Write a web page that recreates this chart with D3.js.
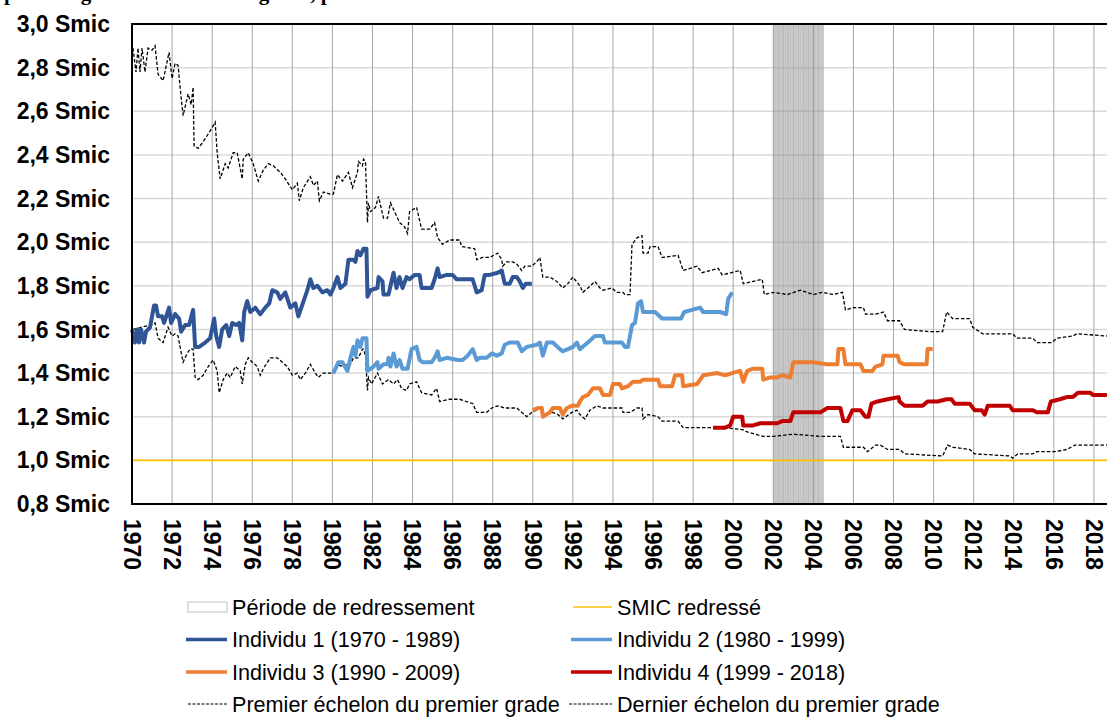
<!DOCTYPE html>
<html lang="fr">
<head>
<meta charset="utf-8">
<script src="https://cdn.jsdelivr.net/npm/d3@7"></script>
<style>
  html, body { margin: 0; padding: 0; background: #ffffff; }
  svg { display: block; }
  text { font-family: Arial, "Liberation Sans", sans-serif; }
</style>
</head>
<body>
<svg id="chart" width="1107" height="717"></svg>
<script>
// ---- Data: ratio to the Smic, by year (fractional years) ----
const yearTicks = d3.range(1970, 2019, 2);
const valueTicks = [0.8, 1.0, 1.2, 1.4, 1.6, 1.8, 2.0, 2.2, 2.4, 2.6, 2.8, 3.0];
const smicLevel = 1.0;
const redressementPeriod = [2002, 2004.5];

const dernierEchelon = [
  [1970.05,2.89],[1970.2,2.78],[1970.3,2.89],[1970.4,2.78],[1970.5,2.89],[1970.65,2.78],[1970.8,2.89],
  [1971.0,2.88],[1971.15,2.90],[1971.3,2.77],[1971.55,2.74],[1971.85,2.87],[1972.0,2.75],[1972.15,2.82],
  [1972.3,2.81],[1972.4,2.71],[1972.55,2.58],[1972.8,2.68],[1972.95,2.63],[1973.05,2.71],[1973.1,2.44],
  [1973.3,2.43],[1973.55,2.46],[1973.9,2.51],[1974.15,2.55],[1974.25,2.41],[1974.4,2.29],[1974.65,2.36],
  [1974.8,2.34],[1975.05,2.41],[1975.25,2.41],[1975.5,2.29],[1975.55,2.38],[1975.8,2.41],[1976.05,2.36],
  [1976.3,2.28],[1976.55,2.33],[1976.8,2.36],[1977.05,2.35],[1977.4,2.32],[1977.65,2.29],[1978.0,2.24],
  [1978.25,2.27],[1978.35,2.19],[1978.55,2.25],[1978.9,2.30],[1979.05,2.26],[1979.25,2.28],[1979.35,2.19],
  [1979.55,2.23],[1979.9,2.22],[1980.05,2.22],[1980.25,2.31],[1980.5,2.28],[1980.8,2.32],[1981.0,2.25],
  [1981.25,2.32],[1981.3,2.37],[1981.5,2.35],[1981.55,2.38],[1981.65,2.37],[1981.75,2.09],[1981.8,2.18],
  [1981.9,2.14],[1982.15,2.16],[1982.3,2.21],[1982.55,2.11],[1982.75,2.11],[1982.9,2.18],[1983.05,2.15],
  [1983.35,2.09],[1983.6,2.07],[1983.75,2.04],[1983.85,2.14],[1984.2,2.16],[1984.45,2.06],[1984.85,2.06],
  [1985.1,2.09],[1985.25,2.02],[1985.5,1.99],[1985.85,2.01],[1986.35,2.01],[1986.45,1.98],[1987.1,1.97],
  [1987.2,1.92],[1987.5,1.93],[1987.85,1.93],[1988.25,1.95],[1988.45,1.92],[1988.5,1.89],[1988.7,1.91],
  [1989.0,1.91],[1989.2,1.90],[1989.45,1.87],[1989.6,1.89],[1989.95,1.89],[1990.2,1.91],[1990.35,1.93],
  [1990.5,1.84],[1990.85,1.84],[1991.2,1.82],[1991.5,1.79],[1991.75,1.81],[1992.0,1.84],[1992.35,1.80],
  [1992.5,1.77],[1992.75,1.79],[1993.1,1.82],[1993.35,1.79],[1993.5,1.78],[1993.95,1.79],[1994.2,1.77],
  [1994.5,1.77],[1994.6,1.76],[1994.85,1.76],[1994.95,1.99],[1995.2,2.02],[1995.45,2.03],[1995.5,1.95],
  [1995.75,1.95],[1995.85,1.98],[1996.25,1.98],[1996.45,1.93],[1997.25,1.94],[1997.5,1.87],[1998.2,1.89],
  [1998.45,1.86],[1999.25,1.88],[1999.45,1.85],[2000.35,1.87],[2000.5,1.81],[2001.45,1.83],[2001.55,1.76],
  [2002.0,1.77],[2002.7,1.76],[2003.35,1.78],[2004.0,1.76],[2004.45,1.77],[2005.0,1.76],[2005.45,1.77],
  [2005.6,1.69],[2006.0,1.70],[2006.5,1.70],[2006.6,1.67],[2007.1,1.67],[2007.5,1.68],[2007.7,1.64],
  [2008.3,1.64],[2008.55,1.60],[2009.8,1.59],[2010.45,1.59],[2010.65,1.68],[2010.95,1.65],[2011.8,1.65],
  [2011.95,1.61],[2012.45,1.58],[2013.95,1.58],[2014.15,1.56],[2014.95,1.56],[2015.15,1.54],[2015.9,1.54],
  [2016.15,1.56],[2016.95,1.57],[2017.15,1.58],[2018.65,1.57]
];

const premierEchelon = [
  [1970.05,1.60],[1970.9,1.62],[1971.15,1.63],[1971.3,1.56],[1971.55,1.54],[1971.8,1.61],[1972.0,1.57],
  [1972.15,1.58],[1972.3,1.57],[1972.4,1.52],[1972.55,1.45],[1972.75,1.49],[1972.9,1.51],[1973.05,1.51],
  [1973.15,1.38],[1973.3,1.37],[1973.55,1.39],[1973.8,1.43],[1974.05,1.46],[1974.25,1.41],[1974.35,1.31],
  [1974.55,1.37],[1974.75,1.40],[1974.9,1.38],[1975.15,1.43],[1975.4,1.41],[1975.5,1.35],[1975.65,1.44],
  [1975.8,1.47],[1976.0,1.45],[1976.25,1.43],[1976.4,1.39],[1976.55,1.42],[1976.9,1.47],[1977.25,1.47],
  [1977.5,1.45],[1977.75,1.43],[1978.0,1.39],[1978.25,1.40],[1978.4,1.37],[1978.65,1.40],[1978.9,1.44],
  [1979.15,1.40],[1979.3,1.38],[1979.55,1.40],[1979.9,1.40],[1980.05,1.40],[1980.25,1.44],[1980.5,1.43],
  [1980.75,1.44],[1980.8,1.42],[1981.05,1.47],[1981.3,1.47],[1981.5,1.51],[1981.55,1.51],[1981.65,1.48],
  [1981.75,1.32],[1981.8,1.38],[1981.95,1.35],[1982.25,1.40],[1982.5,1.35],[1982.8,1.37],[1983.05,1.35],
  [1983.25,1.37],[1983.45,1.33],[1983.7,1.32],[1983.85,1.35],[1984.2,1.36],[1984.45,1.31],[1984.95,1.30],
  [1985.2,1.33],[1985.35,1.27],[1985.85,1.28],[1986.35,1.28],[1987.0,1.26],[1987.2,1.22],[1987.7,1.22],
  [1987.95,1.24],[1988.25,1.25],[1988.6,1.24],[1989.2,1.24],[1989.45,1.22],[1989.7,1.20],[1989.95,1.22],
  [1990.2,1.23],[1990.45,1.24],[1990.5,1.20],[1991.0,1.22],[1991.25,1.21],[1991.5,1.19],[1991.95,1.22],
  [1992.2,1.23],[1992.35,1.21],[1992.6,1.19],[1992.85,1.23],[1993.2,1.25],[1993.5,1.24],[1994.0,1.24],
  [1994.45,1.24],[1994.5,1.22],[1994.85,1.22],[1995.2,1.24],[1995.45,1.24],[1995.5,1.19],[1995.75,1.21],
  [1996.25,1.20],[1996.45,1.18],[1997.25,1.18],[1997.5,1.15],[1998.45,1.15],[1999.35,1.15],[1999.6,1.15],
  [2000.5,1.14],[2000.7,1.13],[2001.5,1.11],[2002.0,1.11],[2003.0,1.12],[2004.35,1.11],[2005.35,1.11],
  [2005.5,1.06],[2006.5,1.06],[2006.7,1.04],[2007.1,1.07],[2007.35,1.07],[2007.7,1.05],[2008.3,1.05],
  [2008.55,1.03],[2010.45,1.02],[2010.7,1.07],[2010.95,1.06],[2011.8,1.05],[2012.05,1.03],[2013.8,1.02],
  [2013.95,1.01],[2014.2,1.03],[2014.95,1.03],[2015.15,1.04],[2016.05,1.04],[2016.65,1.05],[2017.05,1.07],
  [2018.65,1.07]
];

const individu1 = [
  [1970.0,1.60],[1970.15,1.54],[1970.25,1.60],[1970.35,1.54],[1970.45,1.60],[1970.6,1.54],[1970.7,1.59],
  [1970.9,1.61],[1971.1,1.71],[1971.2,1.71],[1971.3,1.66],[1971.5,1.66],[1971.6,1.63],[1971.85,1.70],
  [1971.95,1.63],[1972.15,1.67],[1972.35,1.65],[1972.45,1.59],[1972.65,1.62],[1972.85,1.62],[1973.05,1.69],
  [1973.15,1.52],[1973.35,1.52],[1973.65,1.54],[1973.9,1.56],[1974.1,1.65],[1974.2,1.57],[1974.35,1.52],
  [1974.5,1.60],[1974.7,1.62],[1974.85,1.57],[1975.0,1.63],[1975.2,1.62],[1975.35,1.63],[1975.5,1.55],
  [1975.6,1.68],[1975.75,1.73],[1975.9,1.68],[1976.15,1.70],[1976.4,1.67],[1976.65,1.70],[1976.85,1.72],
  [1977.0,1.78],[1977.25,1.77],[1977.4,1.74],[1977.65,1.77],[1977.9,1.70],[1978.15,1.72],[1978.3,1.66],
  [1978.75,1.78],[1978.9,1.83],[1979.05,1.79],[1979.25,1.80],[1979.5,1.77],[1979.75,1.78],[1979.9,1.76],
  [1980.05,1.79],[1980.25,1.84],[1980.4,1.79],[1980.65,1.81],[1980.8,1.92],[1981.05,1.92],[1981.15,1.91],
  [1981.25,1.96],[1981.4,1.94],[1981.55,1.97],[1981.7,1.97],[1981.75,1.75],[1981.9,1.78],[1982.25,1.79],
  [1982.3,1.84],[1982.5,1.82],[1982.55,1.76],[1982.8,1.76],[1982.9,1.80],[1983.05,1.86],[1983.2,1.79],
  [1983.35,1.84],[1983.5,1.79],[1983.7,1.84],[1983.85,1.83],[1984.1,1.85],[1984.35,1.85],[1984.45,1.79],
  [1984.95,1.79],[1985.1,1.83],[1985.25,1.88],[1985.35,1.84],[1985.7,1.85],[1986.0,1.85],[1986.2,1.83],
  [1987.0,1.83],[1987.2,1.77],[1987.45,1.78],[1987.6,1.85],[1987.85,1.85],[1988.25,1.86],[1988.45,1.87],
  [1988.6,1.81],[1988.85,1.81],[1989.0,1.84],[1989.2,1.84],[1989.35,1.82],[1989.5,1.79],[1989.65,1.81],
  [1989.95,1.81]
];

const individu2 = [
  [1980.05,1.40],[1980.3,1.45],[1980.5,1.45],[1980.75,1.41],[1980.9,1.47],[1981.05,1.52],[1981.15,1.48],
  [1981.25,1.55],[1981.4,1.52],[1981.5,1.56],[1981.7,1.56],[1981.75,1.41],[1982.05,1.43],[1982.25,1.45],
  [1982.3,1.42],[1982.55,1.44],[1982.75,1.44],[1982.8,1.47],[1982.9,1.43],[1983.05,1.49],[1983.2,1.43],
  [1983.35,1.46],[1983.5,1.42],[1983.75,1.42],[1983.95,1.51],[1984.2,1.52],[1984.35,1.46],[1984.5,1.45],
  [1984.95,1.45],[1985.1,1.47],[1985.25,1.50],[1985.35,1.46],[1985.7,1.47],[1986.25,1.46],[1986.5,1.46],
  [1986.75,1.48],[1987.0,1.51],[1987.2,1.46],[1987.35,1.47],[1987.7,1.47],[1987.95,1.49],[1988.2,1.48],
  [1988.45,1.49],[1988.6,1.53],[1988.85,1.54],[1989.25,1.54],[1989.45,1.50],[1989.7,1.52],[1990.2,1.53],
  [1990.35,1.54],[1990.5,1.48],[1990.7,1.54],[1991.0,1.54],[1991.35,1.51],[1991.5,1.50],[1991.75,1.51],
  [1992.0,1.52],[1992.2,1.54],[1992.35,1.51],[1992.75,1.54],[1993.1,1.57],[1993.5,1.57],[1993.6,1.54],
  [1994.45,1.54],[1994.6,1.52],[1994.75,1.52],[1994.95,1.62],[1995.1,1.63],[1995.25,1.72],[1995.4,1.73],
  [1995.5,1.68],[1996.1,1.68],[1996.45,1.65],[1997.4,1.65],[1997.55,1.68],[1998.35,1.70],[1998.5,1.68],
  [1999.35,1.68],[1999.65,1.67],[1999.75,1.74],[1999.95,1.77]
];

const individu3 = [
  [1990.0,1.23],[1990.25,1.24],[1990.45,1.24],[1990.5,1.20],[1990.85,1.22],[1991.0,1.24],[1991.35,1.24],
  [1991.5,1.21],[1991.7,1.24],[1991.95,1.25],[1992.25,1.25],[1992.35,1.27],[1992.5,1.29],[1992.75,1.30],
  [1993.0,1.33],[1993.35,1.33],[1993.5,1.30],[1993.85,1.30],[1994.0,1.35],[1994.35,1.35],[1994.45,1.33],
  [1994.75,1.34],[1995.0,1.36],[1995.35,1.36],[1995.5,1.37],[1996.25,1.37],[1996.35,1.34],[1996.95,1.34],
  [1997.1,1.39],[1997.45,1.39],[1997.5,1.34],[1998.2,1.35],[1998.5,1.39],[1999.2,1.40],[1999.6,1.39],
  [1999.95,1.40],[2000.35,1.41],[2000.5,1.36],[2000.7,1.41],[2001.0,1.42],[2001.45,1.42],[2001.5,1.37],
  [2001.85,1.38],[2002.2,1.38],[2002.45,1.39],[2002.85,1.38],[2003.0,1.45],[2004.0,1.45],[2004.7,1.44],
  [2005.2,1.44],[2005.25,1.51],[2005.5,1.51],[2005.6,1.44],[2006.35,1.44],[2006.5,1.41],[2006.95,1.41],
  [2007.1,1.43],[2007.45,1.44],[2007.5,1.48],[2008.2,1.48],[2008.3,1.45],[2008.55,1.44],[2009.55,1.44],
  [2009.65,1.44],[2009.7,1.51],[2009.95,1.51]
];

const individu4 = [
  [1999.0,1.15],[1999.6,1.15],[1999.85,1.16],[2000.0,1.20],[2000.45,1.20],[2000.5,1.16],[2001.0,1.16],
  [2001.35,1.17],[2001.7,1.17],[2002.2,1.17],[2002.45,1.18],[2002.85,1.18],[2003.0,1.22],[2003.85,1.22],
  [2004.35,1.22],[2004.7,1.24],[2005.35,1.24],[2005.5,1.18],[2005.7,1.18],[2005.95,1.23],[2006.35,1.23],
  [2006.6,1.20],[2006.75,1.20],[2006.9,1.26],[2007.2,1.27],[2007.7,1.28],[2008.25,1.29],[2008.3,1.27],
  [2008.55,1.25],[2009.45,1.25],[2009.7,1.27],[2010.2,1.27],[2010.65,1.28],[2010.9,1.28],[2011.05,1.26],
  [2011.8,1.26],[2012.05,1.23],[2012.4,1.23],[2012.55,1.21],[2012.7,1.25],[2013.8,1.25],[2013.95,1.23],
  [2014.95,1.23],[2015.15,1.22],[2015.7,1.22],[2015.85,1.27],[2016.3,1.28],[2016.65,1.29],[2016.95,1.29],
  [2017.2,1.31],[2017.8,1.31],[2017.95,1.30],[2018.65,1.30]
];

const individuNames = ["Individu 1 (1970 - 1989)", "Individu 2 (1980 - 1999)",
                       "Individu 3 (1990 - 2009)", "Individu 4 (1999 - 2018)"];
const individuColors = ["#2f5597", "#5b9bd5", "#ed7d31", "#c00000"];
const gradeNames = ["Premier échelon du premier grade", "Dernier échelon du premier grade"];

// ---- Layout ----
const svg = d3.select("#chart");
const margin = { left: 132, top: 24, bottom: 504 };

const x = d3.scaleLinear().domain([1970, 2019]).range([margin.left, margin.left + 49 * 20.04]);
const y = d3.scaleLinear().domain([0.8, 3.0]).range([margin.bottom, margin.top]);

// Title (top of the figure, mostly outside the frame)
svg.append("text")
  .attr("x", 4).attr("y", 0)
  .style("font-family", "'Liberation Serif', 'Times New Roman', serif")
  .style("font-weight", "bold").style("font-size", "21px")
  .text("premier grade et du dernier grade, par individu");

// Horizontal gridlines
svg.append("g").selectAll("line").data(valueTicks).join("line")
  .attr("x1", x(1970)).attr("x2", 1107)
  .attr("y1", d => y(d)).attr("y2", d => y(d))
  .attr("stroke", "#d9d9d9").attr("stroke-width", 1.5);

// Vertical gridlines (every two years)
svg.append("g").selectAll("line").data(yearTicks.slice(1)).join("line")
  .attr("x1", d => x(d)).attr("x2", d => x(d))
  .attr("y1", y(3.0)).attr("y2", y(0.8))
  .attr("stroke", "#a6a6a6").attr("stroke-width", 1);

// Redressement period: monthly bars
const months = d3.range(redressementPeriod[0], redressementPeriod[1], 1 / 12);
svg.append("g").selectAll("rect").data(months).join("rect")
  .attr("x", d => x(d)).attr("width", (x(1971) - x(1970)) / 12 + 0.6)
  .attr("y", y(3.0)).attr("height", y(0.8) - y(3.0))
  .attr("fill", "#8c8c8c").attr("fill-opacity", (d, i) => (i % 3 === 1 ? 0.36 : 0.44));

// SMIC line
svg.append("line")
  .attr("x1", x(1970)).attr("x2", 1107)
  .attr("y1", y(smicLevel)).attr("y2", y(smicLevel))
  .attr("stroke", "#ffc000").attr("stroke-width", 1.6);

const line = d3.line().x(d => x(d[0])).y(d => y(d[1])).curve(d3.curveLinear);

// Grade reference lines (dashed)
[premierEchelon, dernierEchelon].forEach(s => {
  svg.append("path").datum(s).attr("d", line)
    .attr("fill", "none").attr("stroke", "#000").attr("stroke-width", 1.3)
    .attr("stroke-dasharray", "3.5,2");
});

// Individual careers
[individu1, individu2, individu3, individu4].forEach((s, i) => {
  svg.append("path").datum(s).attr("d", line)
    .attr("fill", "none").attr("stroke", individuColors[i]).attr("stroke-width", 4)
    .attr("stroke-linejoin", "round").attr("stroke-linecap", "butt");
});

// Frame: top border, left and bottom axes
svg.append("line").attr("x1", x(1970)).attr("x2", 1107).attr("y1", y(3.0)).attr("y2", y(3.0))
  .attr("stroke", "#000").attr("stroke-width", 2);
svg.append("line").attr("x1", x(1970)).attr("x2", x(1970)).attr("y1", y(3.0) - 1).attr("y2", y(0.8) + 1)
  .attr("stroke", "#000").attr("stroke-width", 2);
svg.append("line").attr("x1", x(1970)).attr("x2", 1107).attr("y1", y(0.8)).attr("y2", y(0.8))
  .attr("stroke", "#000").attr("stroke-width", 2);

// Y tick labels
const fmt = d => d.toFixed(1).replace(".", ",") + " Smic";
svg.append("g").selectAll("text").data(valueTicks).join("text")
  .attr("x", 110).attr("y", d => y(d)).attr("dy", "0.35em")
  .attr("text-anchor", "end")
  .style("font-weight", "bold").style("font-size", "23px").attr("fill", "#000")
  .text(fmt);

// X tick labels, rotated
svg.append("g").selectAll("text").data(yearTicks).join("text")
  .attr("transform", d => `translate(${x(d)},${519}) rotate(90)`)
  .attr("dy", "0.36em")
  .attr("text-anchor", "start")
  .style("font-weight", "bold").style("font-size", "23px").attr("fill", "#000")
  .text(d => d);

// Legend
const leg = svg.append("g").style("font-size", "21.6px");
const col = [188, 573];
const rows = [607, 639.5, 672, 704];
const textGap = 44;

leg.append("rect").attr("x", col[0]).attr("y", rows[0] - 5).attr("width", 39).attr("height", 10)
  .attr("fill", "#fff").attr("stroke", "#bfbfbf").attr("stroke-width", 1);
leg.append("text").attr("x", col[0] + textGap).attr("y", rows[0]).attr("dy", "0.35em").text("Période de redressement");

leg.append("line").attr("x1", col[1]).attr("x2", col[1] + 39).attr("y1", rows[0]).attr("y2", rows[0])
  .attr("stroke", "#ffc000").attr("stroke-width", 1.6);
leg.append("text").attr("x", col[1] + textGap).attr("y", rows[0]).attr("dy", "0.35em").text("SMIC redressé");

individuNames.forEach((name, i) => {
  const cx = col[i % 2], cy = rows[1 + Math.floor(i / 2)];
  leg.append("line").attr("x1", cx - 2).attr("x2", cx + 39).attr("y1", cy).attr("y2", cy)
    .attr("stroke", individuColors[i]).attr("stroke-width", 3.5);
  leg.append("text").attr("x", cx + textGap).attr("y", cy).attr("dy", "0.35em").text(name);
});

gradeNames.forEach((name, i) => {
  const cx = col[i], cy = rows[3];
  leg.append("line").attr("x1", cx - (i === 1 ? 4 : 0)).attr("x2", cx + 39).attr("y1", cy).attr("y2", cy)
    .attr("stroke", "#000").attr("stroke-width", 1.2).attr("stroke-dasharray", "3,1.5");
  leg.append("text").attr("x", cx + textGap).attr("y", cy).attr("dy", "0.35em").text(name);
});
</script>
</body>
</html>
